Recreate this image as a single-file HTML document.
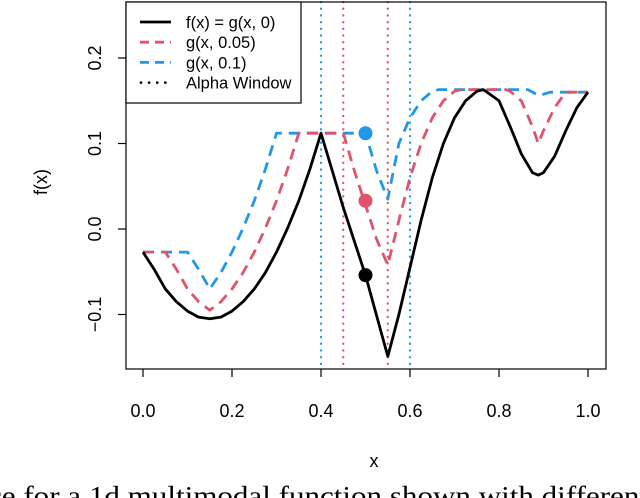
<!DOCTYPE html>
<html><head><meta charset="utf-8"><style>
html,body{margin:0;padding:0;background:#fff;width:640px;height:498px;overflow:hidden}
svg{display:block;font-family:"Liberation Sans",Arial,sans-serif}
</style></head><body>
<svg id="chart" width="640" height="498" viewBox="0 0 640 498" xmlns="http://www.w3.org/2000/svg">
<g id="plot"></g>
<text x="-12" y="505" font-family="Liberation Serif,serif" font-size="27" textLength="660" lengthAdjust="spacingAndGlyphs" fill="#000">ce for a 1d multimodal function shown with different</text>
</svg>
<script>
const fX=[0,0.025,0.05,0.075,0.1,0.125,0.15,0.175,0.2,0.225,0.25,0.275,0.3,0.325,0.35,0.375,0.4,0.45,0.5,0.55,0.575,0.6,0.625,0.65,0.675,0.7,0.725,0.75,0.765,0.8,0.825,0.85,0.875,0.888,0.9,0.925,0.95,0.975,1.0];
const fY=[-0.027,-0.047,-0.070,-0.085,-0.096,-0.103,-0.105,-0.103,-0.096,-0.085,-0.070,-0.051,-0.027,0.001,0.033,0.070,0.112,0.025,-0.054,-0.149,-0.100,-0.045,0.010,0.060,0.100,0.130,0.150,0.161,0.163,0.150,0.120,0.088,0.066,0.063,0.066,0.085,0.115,0.142,0.160];
const rX=[0,0.05,0.075,0.1,0.125,0.15,0.175,0.2,0.225,0.25,0.275,0.3,0.325,0.35,0.45,0.475,0.5,0.525,0.55,0.575,0.6,0.625,0.65,0.675,0.7,0.715,0.815,0.825,0.85,0.875,0.888,0.9,0.925,0.95,1.0];
const rY=[-0.027,-0.027,-0.047,-0.070,-0.085,-0.095,-0.085,-0.070,-0.051,-0.027,0.001,0.033,0.070,0.112,0.112,0.068,0.028,-0.012,-0.042,0.010,0.060,0.100,0.130,0.150,0.161,0.163,0.163,0.161,0.150,0.120,0.100,0.115,0.142,0.160,0.160];
const bX=[0,0.1,0.125,0.15,0.175,0.2,0.225,0.25,0.275,0.3,0.5,0.525,0.55,0.575,0.6,0.625,0.65,0.665,0.865,0.89,0.915,1.0];
const bY=[-0.027,-0.027,-0.047,-0.070,-0.051,-0.027,0.001,0.033,0.070,0.112,0.112,0.068,0.035,0.100,0.130,0.150,0.161,0.163,0.163,0.156,0.160,0.160];
const windowsX=[0.4,0.45,0.55,0.6];
const windowsC=["#2297E6","#DF536B","#DF536B","#2297E6"];
const dotX=[0.5,0.5,0.5];
const dotY=[-0.054,0.033,0.112];
const dotC=["#000","#DF536B","#2297E6"];
const xTicks=[0,0.2,0.4,0.6,0.8,1.0];
const xTickLabels=["0.0","0.2","0.4","0.6","0.8","1.0"];
const yTicks=[-0.1,0,0.1,0.2];
const yTickLabels=["\u22120.1","0.0","0.1","0.2"];

const X=v=>143+v*445, Y=v=>229-v*855;
const NS="http://www.w3.org/2000/svg", g=document.getElementById('plot');
function mk(t,a){const e=document.createElementNS(NS,t);for(const k in a)e.setAttribute(k,a[k]);g.appendChild(e);return e;}
for(let i=0;i<windowsX.length;i++){
 const l=mk('line',{x1:X(windowsX[i]),x2:X(windowsX[i]),y1:2,y2:369,stroke:windowsC[i],'stroke-width':2.3,'stroke-dasharray':'0.1 6.6','stroke-linecap':'round'});
 
 
}
function path(xs,ys,c,dash,name){
 const px=xs.map(X), py=ys.map(Y);
 let d='M'+px[0].toFixed(1)+','+py[0].toFixed(1);
 for(let i=1;i<px.length;i++){d+='L'+px[i].toFixed(1)+','+py[i].toFixed(1);}
 const p=mk('path',{d:d,fill:'none',stroke:c,'stroke-width':2.8,'stroke-dasharray':dash,'stroke-linejoin':'round'});
 
 
}
path(bX,bY,'#2297E6','11 7','series-g-0.1');
path(rX,rY,'#DF536B','11 7','series-g-0.05');
path(fX,fY,'#000','none','series-f');
for(let i=0;i<dotX.length;i++){
 const c=mk('circle',{cx:X(dotX[i]),cy:Y(dotY[i]),r:7,fill:dotC[i]});
 
 
}
const box=mk('rect',{x:126,y:2,width:480,height:367,fill:'none',stroke:'#000','stroke-width':1.2});


for(let i=0;i<xTicks.length;i++){
 const t=mk('line',{x1:X(xTicks[i]),x2:X(xTicks[i]),y1:369,y2:377,stroke:'#000','stroke-width':1.2});
 
 
 const l=mk('text',{x:X(xTicks[i]),y:417,'text-anchor':'middle','font-size':18});
 l.textContent=xTickLabels[i];
 
 
}
for(let i=0;i<yTicks.length;i++){
 const t=mk('line',{x1:118,x2:126,y1:Y(yTicks[i]),y2:Y(yTicks[i]),stroke:'#000','stroke-width':1.2});
 
 
 const l=mk('text',{x:0,y:0,'text-anchor':'middle','font-size':18,transform:`translate(101,${Y(yTicks[i])}) rotate(-90)`});
 l.textContent=yTickLabels[i];
 
 
}
const xt=mk('text',{x:374,y:467,'text-anchor':'middle','font-size':18});xt.textContent='x';


const yt=mk('text',{x:0,y:0,'text-anchor':'middle','font-size':18,transform:'translate(47,182) rotate(-90)'});yt.textContent='f(x)';


const lg=mk('rect',{x:126,y:2,width:175,height:101,fill:'#fff',stroke:'#000','stroke-width':1.2});


const legL=["f(x) = g(x, 0)","g(x, 0.05)","g(x, 0.1)","Alpha Window"];
const legC=['#000','#DF536B','#2297E6','#000'];
const legD=['none','9 6','9 6','0.1 8'];
for(let i=0;i<4;i++){
 const y=22+i*20.2;
 const l=mk('line',{x1:i==3?141:140,x2:171,y1:y,y2:y,stroke:legC[i],'stroke-width':i==3?2.6:2.8,'stroke-dasharray':legD[i],'stroke-linecap':i==3?'round':'butt'});
 
 
 const t=mk('text',{x:186,y:y+6,'font-size':16.5});t.textContent=legL[i];
 
 
}
</script>
</body></html>
